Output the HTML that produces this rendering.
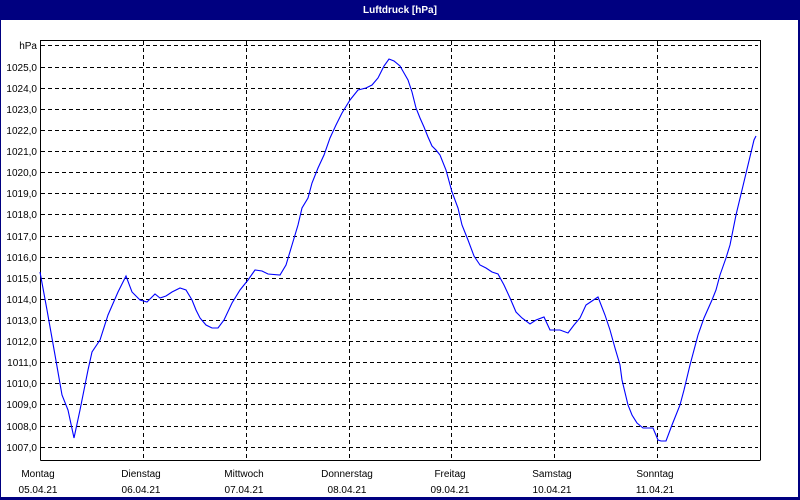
<!DOCTYPE html>
<html><head><meta charset="utf-8"><style>
body{margin:0;width:800px;height:500px;background:#fff;overflow:hidden}
svg{display:block}
text{font-family:"Liberation Sans",sans-serif;font-size:10px;fill:#000}
</style></head><body>
<svg width="800" height="500" xmlns="http://www.w3.org/2000/svg" shape-rendering="crispEdges">
<rect x="0" y="0" width="800" height="500" fill="#fff"/>
<rect x="0" y="0" width="800" height="20" fill="#000080"/>
<rect x="0" y="0" width="1" height="500" fill="#000080"/>
<rect x="798" y="0" width="2" height="500" fill="#000080"/>
<rect x="0" y="497" width="800" height="3" fill="#000080"/>
<text x="400" y="13" text-anchor="middle" style="fill:#fff;font-weight:bold">Luftdruck [hPa]</text>
<g stroke="#000" stroke-width="1" stroke-dasharray="4,3" fill="none">
<line x1="41" y1="45.5" x2="758" y2="45.5"/>
<line x1="41" y1="67.5" x2="758" y2="67.5"/>
<line x1="41" y1="88.5" x2="758" y2="88.5"/>
<line x1="41" y1="109.5" x2="758" y2="109.5"/>
<line x1="41" y1="130.5" x2="758" y2="130.5"/>
<line x1="41" y1="151.5" x2="758" y2="151.5"/>
<line x1="41" y1="172.5" x2="758" y2="172.5"/>
<line x1="41" y1="193.5" x2="758" y2="193.5"/>
<line x1="41" y1="214.5" x2="758" y2="214.5"/>
<line x1="41" y1="236.5" x2="758" y2="236.5"/>
<line x1="41" y1="257.5" x2="758" y2="257.5"/>
<line x1="41" y1="278.5" x2="758" y2="278.5"/>
<line x1="41" y1="299.5" x2="758" y2="299.5"/>
<line x1="41" y1="320.5" x2="758" y2="320.5"/>
<line x1="41" y1="341.5" x2="758" y2="341.5"/>
<line x1="41" y1="362.5" x2="758" y2="362.5"/>
<line x1="41" y1="383.5" x2="758" y2="383.5"/>
<line x1="41" y1="404.5" x2="758" y2="404.5"/>
<line x1="41" y1="426.5" x2="758" y2="426.5"/>
<line x1="41" y1="447.5" x2="758" y2="447.5"/>
<line x1="143.5" y1="41" x2="143.5" y2="460"/>
<line x1="246.5" y1="41" x2="246.5" y2="460"/>
<line x1="349.5" y1="41" x2="349.5" y2="460"/>
<line x1="451.5" y1="41" x2="451.5" y2="460"/>
<line x1="554.5" y1="41" x2="554.5" y2="460"/>
<line x1="657.5" y1="41" x2="657.5" y2="460"/>
</g>
<path d="M40.5 460.5V40.5H760.5V460.5M40.5 460.5H760" stroke="#000" fill="none"/>
<g text-anchor="end">
<text x="37" y="49">hPa</text>
<text x="37" y="71">1025,0</text><text x="37" y="92">1024,0</text><text x="37" y="113">1023,0</text>
<text x="37" y="134">1022,0</text><text x="37" y="155">1021,0</text><text x="37" y="176">1020,0</text>
<text x="37" y="197">1019,0</text><text x="37" y="218">1018,0</text><text x="37" y="240">1017,0</text>
<text x="37" y="261">1016,0</text><text x="37" y="282">1015,0</text><text x="37" y="303">1014,0</text>
<text x="37" y="324">1013,0</text><text x="37" y="345">1012,0</text><text x="37" y="366">1011,0</text>
<text x="37" y="387">1010,0</text><text x="37" y="408">1009,0</text><text x="37" y="430">1008,0</text>
<text x="37" y="451">1007,0</text>
</g>
<g text-anchor="middle">
<text x="38" y="477">Montag</text><text x="38" y="493">05.04.21</text>
<text x="141" y="477">Dienstag</text><text x="141" y="493">06.04.21</text>
<text x="244" y="477">Mittwoch</text><text x="244" y="493">07.04.21</text>
<text x="347" y="477">Donnerstag</text><text x="347" y="493">08.04.21</text>
<text x="450" y="477">Freitag</text><text x="450" y="493">09.04.21</text>
<text x="552" y="477">Samstag</text><text x="552" y="493">10.04.21</text>
<text x="655" y="477">Sonntag</text><text x="655" y="493">11.04.21</text>
</g>
<polyline shape-rendering="auto" fill="none" stroke="#0000ff" stroke-width="1.1" points="40,272 47,310 55,355 62,395 68,410 74,438 80,410 88,370 92,352 100,340 108,315 118,292 126,276 132,292 140,300 147,302 155,294 160,298 166,296 172,292 180,288 186,290 192,300 196,310 200,318 206,325 212,328 218,328 224,320 232,303 240,290 248,280 255,270 262,271 268,274 280,275 286,265 292,245 298,225 302,208 308,198 312,183 318,168 324,155 330,138 336,125 342,113 350,100 358,90 366,88 372,85 378,78 384,66 389,59 394,61 400,66 404,73 408,80 412,92 416,108 420,118 424,127 428,137 432,146 436,150 440,155 446,170 452,192 458,208 462,225 468,240 474,256 480,265 486,268 492,272 498,274 504,285 510,298 516,312 522,318 530,324 536,320 544,317 550,330 560,330 568,333 574,325 580,318 586,305 592,301 598,297 605,315 610,330 615,348 620,365 622,380 628,405 632,415 637,423 643,428 653,428 658,440 661,441 666,441 672,425 680,405 684,390 690,365 698,335 704,318 712,300 716,290 720,275 726,258 730,245 736,215 742,190 748,165 754,140 756,136"/>
</svg>
</body></html>
